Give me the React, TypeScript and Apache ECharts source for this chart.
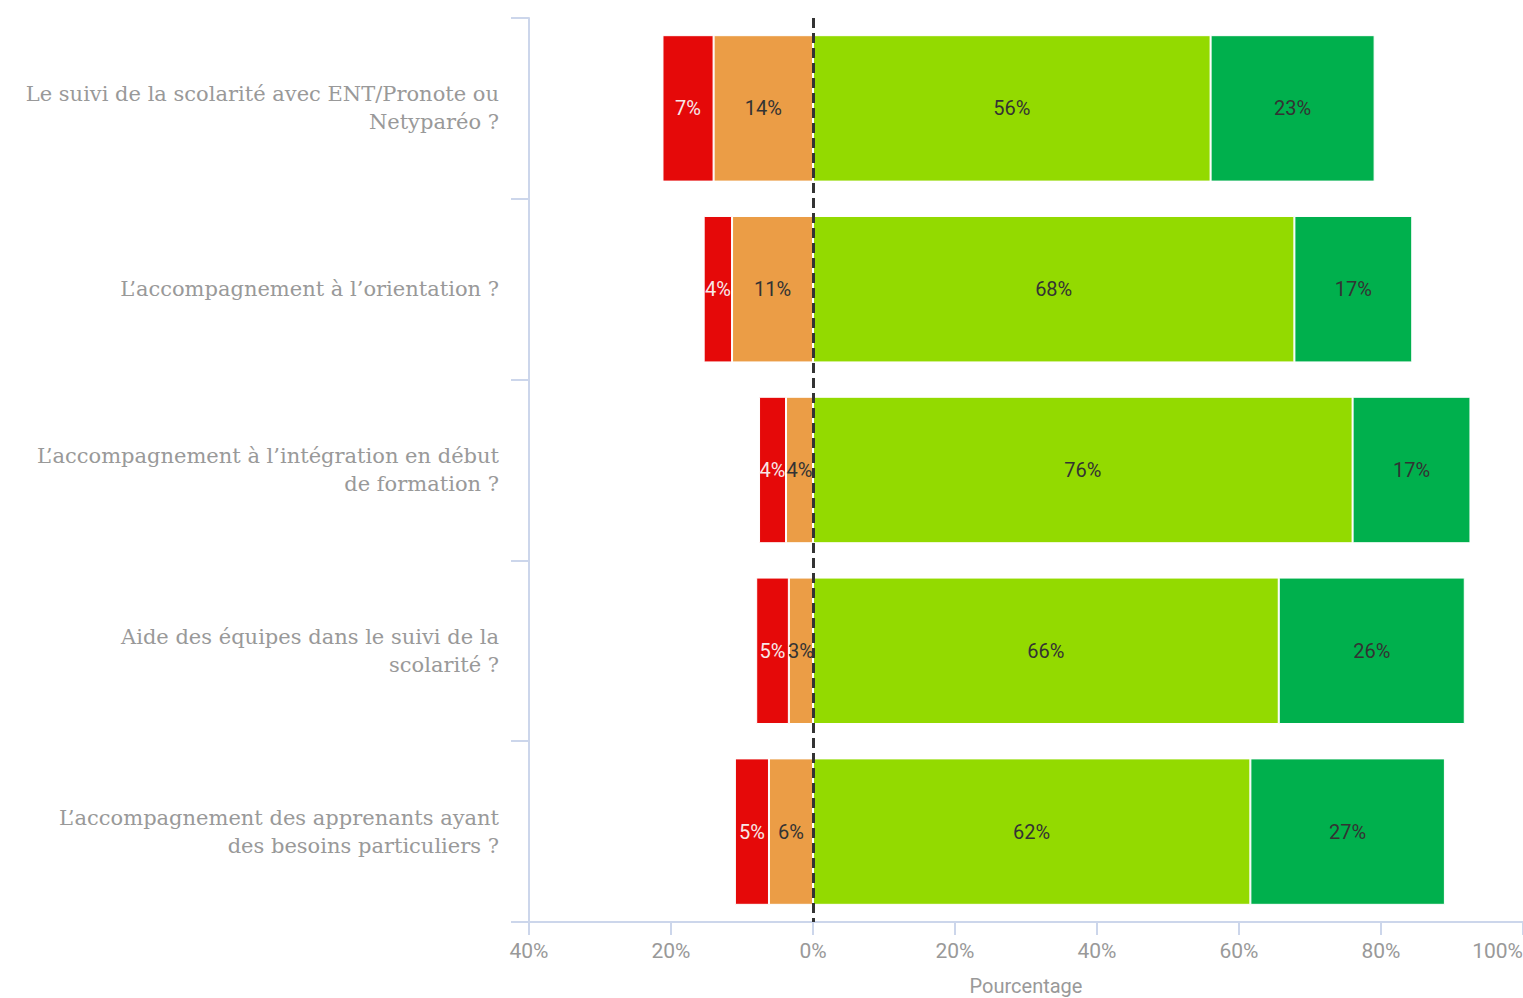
import React, { useEffect, useRef } from "react";
import * as echarts from "echarts";

const categories = [
  "Le suivi de la scolarité avec ENT/Pronote ou\nNetyparéo ?",
  "L’accompagnement à l’orientation ?",
  "L’accompagnement à l’intégration en début\nde formation ?",
  "Aide des équipes dans le suivi de la\nscolarité ?",
  "L’accompagnement des apprenants ayant\ndes besoins particuliers ?",
];
const pasDuToutSatisfait = [7.2, 4.0, 3.8, 4.6, 4.8];
const peuSatisfait = [14.0, 11.4, 3.8, 3.4, 6.2];
const satisfait = [56.0, 67.8, 76.0, 65.6, 61.6];
const tresSatisfait = [23.1, 16.6, 16.6, 26.2, 27.4];
const xTicks = { min: -40, max: 100, interval: 20 };

const COLORS = {
  red: "#e50909",
  orange: "#eb9d46",
  lightGreen: "#93da00",
  darkGreen: "#00b04d",
};

export default function App() {
  const ref = useRef<HTMLDivElement>(null);
  useEffect(() => {
    if (!ref.current) return;
    const chart = echarts.init(ref.current, undefined, { renderer: "svg" });
    const labelFont = "Roboto, 'Noto Sans', sans-serif";
    const mkLabel = (color: string) => ({
      show: true,
      position: "inside" as const,
      color,
      fontFamily: labelFont,
      fontSize: 20,
      formatter: (p: any) => Math.round(Math.abs(p.value)) + "%",
    });
    const common = {
      type: "bar" as const,
      stack: "total",
      barCategoryGap: "19%",
      itemStyle: { borderColor: "#ffffff", borderWidth: 1 },
    };
    chart.setOption({
      animation: false,
      grid: {
        left: 529,
        right: 0,
        top: 18,
        bottom: 76,
        containLabel: false,
        outerBoundsMode: "none",
      },
      xAxis: {
        type: "value",
        min: xTicks.min,
        max: xTicks.max,
        interval: xTicks.interval,
        name: "Pourcentage",
        nameLocation: "middle",
        nameGap: 54,
        nameTextStyle: {
          color: "#999",
          fontSize: 20,
          fontFamily: "'Liberation Sans Narrow', Roboto, sans-serif",
        },
        splitLine: { show: false },
        axisLine: { show: true, lineStyle: { color: "#ccd6eb", width: 2 } },
        axisTick: { show: true, length: 13, lineStyle: { color: "#ccd6eb", width: 2 } },
        axisLabel: {
          color: "#999",
          fontSize: 21,
          margin: 18,
          alignMaxLabel: "right",
          fontFamily: "'Liberation Sans Narrow', Roboto, sans-serif",
          formatter: (v: number) => Math.abs(v) + "%",
        },
      },
      yAxis: {
        type: "category",
        data: categories,
        inverse: true,
        axisLine: { show: true, onZero: false, lineStyle: { color: "#ccd6eb", width: 2 } },
        axisTick: { show: true, length: 18, lineStyle: { color: "#ccd6eb", width: 2 } },
        axisLabel: {
          color: "#999",
          fontSize: 21,
          lineHeight: 28,
          margin: 30,
          align: "right",
          padding: [8, 0, 0, 0],
          fontFamily: "'DejaVu Serif', serif",
        },
      },
      series: [
        {
          ...common,
          name: "Peu satisfait",
          data: peuSatisfait.map((v) => -v),
          itemStyle: { ...common.itemStyle, color: COLORS.orange },
          label: mkLabel("#333333"),
        },
        {
          ...common,
          name: "Pas du tout satisfait",
          data: pasDuToutSatisfait.map((v) => -v),
          itemStyle: { ...common.itemStyle, color: COLORS.red },
          label: mkLabel("#f7e8e8"),
        },
        {
          ...common,
          name: "Satisfait",
          data: satisfait,
          itemStyle: { ...common.itemStyle, color: COLORS.lightGreen },
          label: mkLabel("#333333"),
          markLine: {
            silent: true,
            symbol: "none",
            label: { show: false },
            lineStyle: { color: "#333333", width: 3, type: [10, 5] },
            data: [{ xAxis: 0 }],
            z: 10,
          },
        },
        {
          ...common,
          name: "Très satisfait",
          data: tresSatisfait,
          itemStyle: { ...common.itemStyle, color: COLORS.darkGreen },
          label: mkLabel("#333333"),
        },
      ],
    });
    return () => chart.dispose();
  }, []);
  return (
    <div
      ref={ref}
      style={{ position: "fixed", left: 0, top: 0, width: 1523, height: 998, background: "#fff" }}
    />
  );
}
